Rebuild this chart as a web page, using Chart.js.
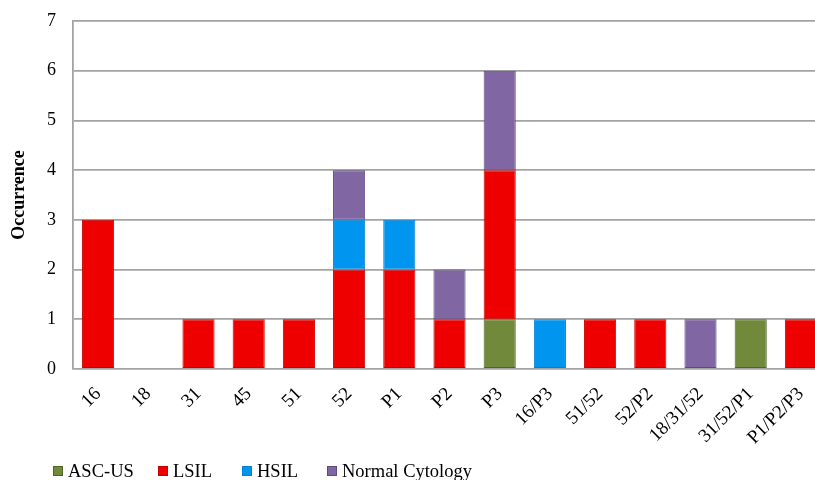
<!DOCTYPE html>
<html>
<head>
<meta charset="utf-8">
<script src="https://cdn.jsdelivr.net/npm/chart.js@4/dist/chart.umd.min.js"></script>
<style>
  html, body { margin: 0; padding: 0; background: #fff; overflow: hidden; }
  #wrap { width: 826px; height: 480px; }
</style>
</head>
<body>
<div id="wrap"><canvas id="c" width="826" height="480"></canvas></div>
<script>
// HPV genotype categories
const categories = ['16', '18', '31', '45', '51', '52', 'P1', 'P2', 'P3', '16/P3', '51/52', '52/P2', '18/31/52', '31/52/P1', 'P1/P2/P3'];

// Occurrence per cytology result
const ascUs  = [0, 0, 0, 0, 0, 0, 0, 0, 1, 0, 0, 0, 0, 1, 0];
const lsil   = [3, 0, 1, 1, 1, 2, 2, 1, 3, 0, 1, 1, 0, 0, 1];
const hsil   = [0, 0, 0, 0, 0, 1, 1, 0, 0, 1, 0, 0, 0, 0, 0];
const normal = [0, 0, 0, 0, 0, 1, 0, 1, 2, 0, 0, 0, 1, 0, 0];

const yTicks = [0, 1, 2, 3, 4, 5, 6, 7];

const SERIF = '"Liberation Serif", "Times New Roman", serif';

// Legend drawn in a single row under the axis labels
const legendX = [53, 158, 242, 327];
const rowLegend = {
  id: 'rowLegend',
  afterDraw(chart) {
    const ctx = chart.ctx;
    ctx.save();
    ctx.font = '18.5px ' + SERIF;
    ctx.textBaseline = 'middle';
    ctx.textAlign = 'left';
    const y = 471;
    chart.data.datasets.forEach((ds, i) => {
      const x = legendX[i];
      ctx.fillStyle = ds.backgroundColor;
      ctx.fillRect(x, y - 5, 10, 10);
      ctx.strokeStyle = ds.borderColor;
      ctx.lineWidth = 1;
      ctx.strokeRect(x + 0.5, y - 4.5, 9, 9);
      ctx.fillStyle = '#000';
      ctx.fillText(ds.label, x + 15, y + 1);
    });
    ctx.restore();
  }
};

new Chart(document.getElementById('c'), {
  type: 'bar',
  data: {
    labels: categories,
    datasets: [
      { label: 'ASC-US', data: ascUs, backgroundColor: '#71893a', borderColor: '#4f6428' },
      { label: 'LSIL', data: lsil, backgroundColor: '#ee0000', borderColor: '#c80000' },
      { label: 'HSIL', data: hsil, backgroundColor: '#0096f0', borderColor: '#0a7ed0' },
      { label: 'Normal Cytology', data: normal, backgroundColor: '#8066a2', borderColor: '#5e4a80' }
    ].map(d => Object.assign(d, { borderWidth: 1, borderSkipped: false, barPercentage: 0.64, categoryPercentage: 1.0 }))
  },
  options: {
    responsive: false,
    animation: false,
    layout: { padding: { top: 21, left: 0, right: 0, bottom: 0 } },
    plugins: {
      legend: { display: false },
      tooltip: { enabled: false }
    },
    scales: {
      x: {
        stacked: true,
        grid: { display: false, drawTicks: false },
        border: { display: false },
        ticks: {
          autoSkip: false,
          minRotation: 45,
          maxRotation: 45,
          padding: 14,
          color: '#000',
          font: { family: SERIF, size: 19 }
        },
        afterFit(scale) {
          scale.height = 111;
          scale.paddingLeft = 0;
          scale.paddingRight = 0;
        }
      },
      y: {
        stacked: true,
        min: 0,
        max: 7,
        afterBuildTicks(scale) { scale.ticks = yTicks.map(v => ({ value: v })); },
        grid: { color: '#a3a3a3', lineWidth: 1.8, drawTicks: false },
        border: { display: true, color: '#a3a3a3', width: 1.8 },
        ticks: {
          padding: 17,
          color: '#000',
          font: { family: SERIF, size: 18 }
        },
        title: {
          display: true,
          text: 'Occurrence',
          color: '#000',
          font: { family: SERIF, size: 18, weight: 'bold' },
          padding: { top: 9, bottom: 0 }
        },
        afterFit(scale) {
          scale.width = 73;
          scale.paddingTop = 0;
          scale.paddingBottom = 0;
        }
      }
    }
  },
  plugins: [rowLegend]
});
</script>
</body>
</html>
